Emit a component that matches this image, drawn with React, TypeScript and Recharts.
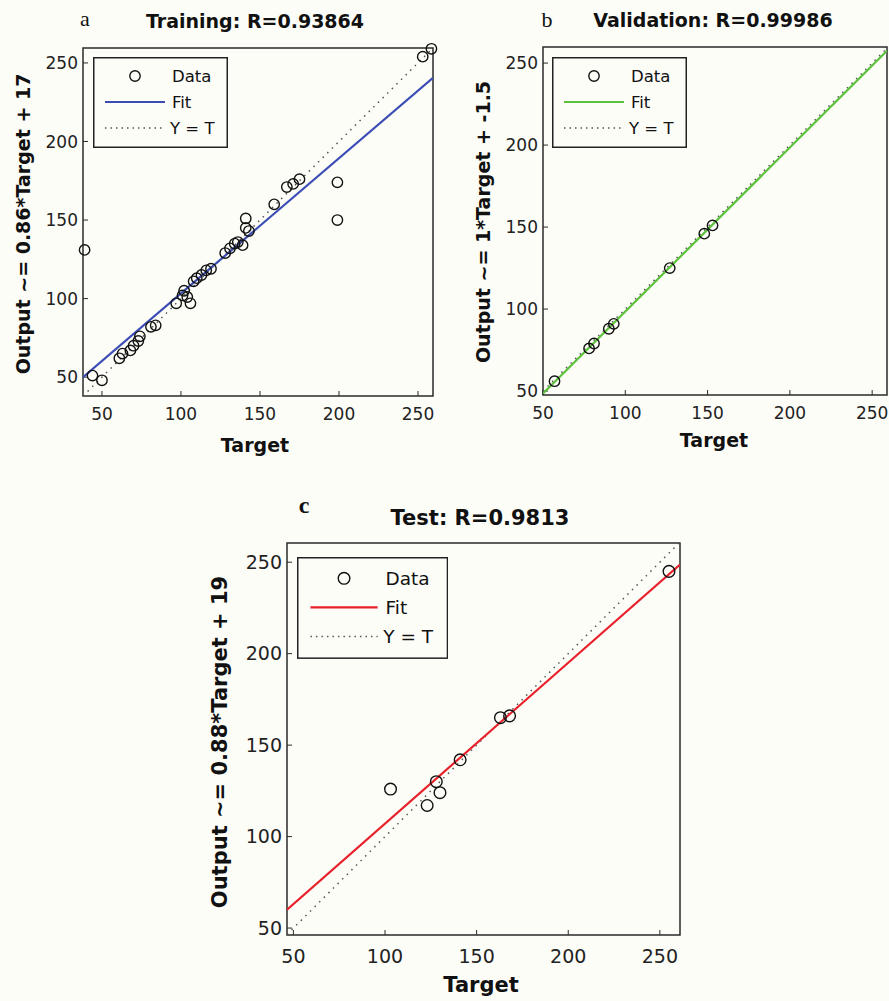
import React from 'react';
import { ScatterChart, Scatter, XAxis, YAxis, Legend, ReferenceArea } from 'recharts';

// --- Training (a)
const trainTarget = [39, 44, 50, 61, 63, 68, 70, 73, 74, 81, 84, 97, 101, 102, 104, 106, 108, 110, 113, 116, 119, 128, 131, 134, 136, 139, 141, 141, 143, 159, 167, 171, 175, 199, 199, 253, 258.5];
const trainOutput = [131, 51, 48, 62, 65, 67, 70, 73, 76, 82, 83, 97, 102, 105, 101, 97, 111, 113, 115, 118, 119, 129, 132, 135, 136, 134, 151, 145, 143, 160, 171, 173, 176, 174, 150, 254, 259];
const trainFitX = [38, 259.5];
const trainFitY = [50, 240.5];

// --- Validation (b)
const valTarget = [57, 78, 81, 90, 93, 127, 148, 153];
const valOutput = [56, 76, 79, 88, 91, 125, 146, 151];
const valFitX = [50, 259];
const valFitY = [48.5, 257.5];

// --- Test (c)
const testTarget = [103, 123, 128, 130, 141, 163, 168, 255];
const testOutput = [126, 117, 130, 124, 142, 165, 166, 245];
const testFitX = [46.5, 261];
const testFitY = [60, 248.7];

const ticks = [50, 100, 150, 200, 250];

const toPts = (xs: number[], ys: number[]) => xs.map((x, i) => ({ x, y: ys[i] }));

const FONT = '"DejaVu Sans", Arial, sans-serif';
const AXIS = '#2a2a2a';

const Ring = (props: any) => {
  const { cx, cy, r } = props;
  if (cx == null || cy == null) return <g />;
  return <circle cx={cx} cy={cy} r={r} fill="none" stroke="#111" strokeWidth={1.4} />;
};
const Nothing = () => <g />;

const LegendBox = ({ color, s }: { color: string; s: number }) => {
  const w = 135 * s, h = 91 * s;
  const rows = [19 * s, 45 * s, 71 * s];
  const fs = 16.5 * s;
  const tx = 79 * s;
  return (
    <svg width={w} height={h} style={{ display: 'block' }}>
      <rect x={0.75} y={0.75} width={w - 1.5} height={h - 1.5} fill="#fdfdf8" stroke="#222" strokeWidth={1.5} />
      <circle cx={42 * s} cy={rows[0]} r={5.2 * s} fill="none" stroke="#111" strokeWidth={1.4} />
      <text x={tx} y={rows[0]} dy="0.36em" fontSize={fs} fontFamily={FONT} fill="#111">Data</text>
      <line x1={12 * s} x2={72 * s} y1={rows[1]} y2={rows[1]} stroke={color} strokeWidth={2.2} />
      <text x={tx} y={rows[1]} dy="0.36em" fontSize={fs} fontFamily={FONT} fill="#111">Fit</text>
      <line x1={12 * s} x2={72 * s} y1={rows[2]} y2={rows[2]} stroke="#555" strokeWidth={1.5} strokeDasharray="1.5 4" />
      <text x={tx - 2 * s} y={rows[2]} dy="0.36em" fontSize={fs} fontFamily={FONT} fill="#111">Y = T</text>
    </svg>
  );
};

type PanelProps = {
  box: [number, number, number, number]; // left, top, width, height (page)
  plot: [number, number, number, number]; // left, right, top, bottom (page)
  xDomain: [number, number];
  yDomain: [number, number];
  points: { x: number; y: number }[];
  fit: { x: number; y: number }[];
  ident: { x: number; y: number }[];
  color: string;
  s: number;
  legendAt: [number, number];
};

const Panel = ({ box, plot, xDomain, yDomain, points, fit, ident, color, s, legendAt }: PanelProps) => {
  const [bl, bt, bw, bh] = box;
  const [pl, pr, pt, pb] = plot;
  const yW = 60, xH = 30, side = 1;
  const margin = { left: pl - bl - yW, right: bl + bw - pr - side, top: pt - bt - side, bottom: bt + bh - pb - xH };
  const tickFont = { fontSize: 17 * s, fill: '#222', fontFamily: FONT };
  return (
    <div style={{ position: 'absolute', left: bl, top: bt }}>
      <ScatterChart width={bw} height={bh} margin={margin}>
        <XAxis xAxisId="b" type="number" dataKey="x" domain={xDomain} allowDataOverflow ticks={ticks}
          height={xH} tickSize={-5} tickMargin={17 * s} tick={tickFont}
          axisLine={false} tickLine={{ stroke: AXIS }} interval={0} />
        <XAxis xAxisId="t" orientation="top" type="number" dataKey="x" domain={xDomain} ticks={ticks}
          height={side} tickSize={-5} tick={false} axisLine={false} tickLine={{ stroke: AXIS }} />
        <YAxis yAxisId="l" type="number" dataKey="y" domain={yDomain} allowDataOverflow ticks={ticks}
          width={yW} tickSize={-5} tickMargin={10} tick={tickFont}
          axisLine={false} tickLine={{ stroke: AXIS }} interval={0} />
        <YAxis yAxisId="r" orientation="right" type="number" dataKey="y" domain={yDomain} ticks={ticks}
          width={side} tickSize={-5} tick={false} axisLine={false} tickLine={{ stroke: AXIS }} />
        <ReferenceArea xAxisId="b" yAxisId="l" x1={xDomain[0]} x2={xDomain[1]} y1={yDomain[0]} y2={yDomain[1]}
          fill="none" stroke={AXIS} strokeWidth={1.5} fillOpacity={0} ifOverflow="visible" />
        <Scatter xAxisId="b" yAxisId="l" data={ident} line={{ stroke: '#555', strokeWidth: 1.5, strokeDasharray: '1.5 5' }}
          shape={<Nothing />} isAnimationActive={false} legendType="none" />
        <Scatter xAxisId="b" yAxisId="l" data={fit} line={{ stroke: color, strokeWidth: 2.2 }}
          shape={<Nothing />} isAnimationActive={false} legendType="none" />
        <Scatter xAxisId="t" yAxisId="r" data={points} shape={(p: any) => <Ring {...p} r={5.2 * s} />} isAnimationActive={false} />
        <Legend layout="vertical" align="center" verticalAlign="middle"
          wrapperStyle={{ left: legendAt[0] - bl, top: legendAt[1] - bt, width: 'auto', height: 'auto' }}
          content={() => <LegendBox color={color} s={s} />} />
      </ScatterChart>
    </div>
  );
};

const Label = ({ x, y, text, size, rotate, serif, bold = true }: any) => (
  <div style={{
    position: 'absolute', left: x, top: y, whiteSpace: 'nowrap', lineHeight: 1,
    transform: `translate(-50%, -50%)${rotate ? ' rotate(-90deg)' : ''}`,
    fontFamily: serif ? '"Liberation Serif", "Times New Roman", serif' : FONT,
    fontWeight: bold ? 700 : 400, fontSize: size, color: '#111',
  }}>{text}</div>
);

export default function App() {
  return (
    <div style={{ position: 'absolute', left: 0, top: 0, width: 889, height: 1001, background: '#fdfdf8', overflow: 'hidden' }}>
      <Panel box={[0, 0, 450, 460]} plot={[83, 433, 48, 396]} xDomain={[38, 259.5]} yDomain={[38, 259.5]}
        points={toPts(trainTarget, trainOutput)} fit={toPts(trainFitX, trainFitY)}
        ident={toPts(trainFitX, trainFitX)} color="#3b4db5" s={1} legendAt={[93, 57]} />
      <Panel box={[450, 0, 439, 460]} plot={[543, 887, 47, 395]} xDomain={[50, 259]} yDomain={[47.6, 259.8]}
        points={toPts(valTarget, valOutput)} fit={toPts(valFitX, valFitY)}
        ident={toPts(valFitX, valFitX)} color="#5cc23c" s={1} legendAt={[552, 57]} />
      <Panel box={[200, 490, 500, 511]} plot={[287, 680, 543, 935]} xDomain={[46.5, 261]} yDomain={[46.2, 260.5]}
        points={toPts(testTarget, testOutput)} fit={toPts(testFitX, testFitY)}
        ident={toPts(testFitX, testFitX)} color="#e8202a" s={1.12} legendAt={[297, 557]} />

      <Label x={85} y={19} text="a" size={22} serif bold={false} />
      <Label x={255} y={21} text="Training: R=0.93864" size={19} />
      <Label x={23} y={224} text="Output ~= 0.86*Target + 17" size={19} rotate />
      <Label x={255} y={445} text="Target" size={19} />

      <Label x={547} y={20} text="b" size={22} serif bold={false} />
      <Label x={713} y={20} text="Validation: R=0.99986" size={19} />
      <Label x={483} y={222} text="Output ~= 1*Target + -1.5" size={19} rotate />
      <Label x={714} y={440} text="Target" size={19} />

      <Label x={304} y={505} text="c" size={24} serif />
      <Label x={480} y={518} text="Test: R=0.9813" size={21} />
      <Label x={220} y={742} text="Output ~= 0.88*Target + 19" size={21} rotate />
      <Label x={481} y={985} text="Target" size={21} />
    </div>
  );
}
